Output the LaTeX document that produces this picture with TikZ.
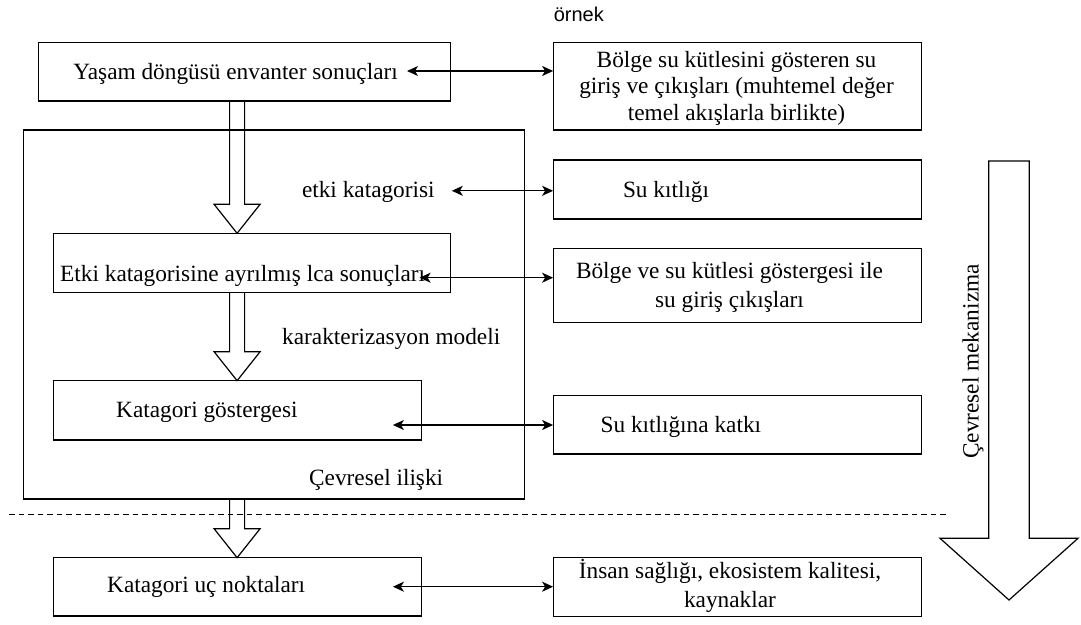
\documentclass[tikz,border=0pt]{standalone}
\usepackage{fontspec}
\setmainfont{Liberation Serif}
\newfontfamily\smallsans{Liberation Sans}
\usetikzlibrary{arrows.meta,calc}

% hollow block arrow pointing down: #1 = x of its axis, #2 = anchor it starts from, #3 = anchor its tip touches
\newcommand{\hollowdown}[3]{%
  \draw[hollow] let \p1=(#2), \p2=(#3) in
    ({(#1-7.5)*1pt},\y1) -- ({(#1-7.5)*1pt},{\y2+29pt})
    -- ({(#1-23)*1pt},{\y2+29pt}) -- ({#1*1pt},\y2)
    -- ({(#1+23)*1pt},{\y2+29pt}) -- ({(#1+7.5)*1pt},{\y2+29pt})
    -- ({(#1+7.5)*1pt},\y1);}

\begin{document}
\begin{tikzpicture}[x=1pt,y=-1pt,
  font=\fontsize{23.3}{26.7}\selectfont,
  box/.style={draw,line width=1.2pt,inner sep=0pt,outer sep=0pt,anchor=north west},
  lbl/.style={inner sep=0pt,anchor=base west},
  block/.style={inner sep=0pt,align=center},
  wide/.style={font=\fontsize{23.3}{28.5}\selectfont},
  tip/.style={Stealth[length=11pt,width=10pt,inset=3pt]},
  link/.style={line width=1.2pt,{Stealth[length=11pt,width=10pt,inset=3pt]}-{Stealth[length=11pt,width=10pt,inset=3pt]}},
  hollow/.style={line width=1.2pt,line join=miter},
  divider/.style={line width=1pt,dash pattern=on 5.5pt off 4pt}]
\fill[white] (0,0) rectangle (1081,624);
\useasboundingbox (0,0) rectangle (1081,624);

% frames
\node[box,minimum width=412.1pt,minimum height=58.7pt] (b1) at (38.6,42.3) {};
\node[box,minimum width=368.5pt,minimum height=87.7pt] (rA) at (553.1,42.3) {};
\node[box,minimum width=500.7pt,minimum height=369pt] (outer) at (23.6,130) {};
\node[box,minimum width=368.5pt,minimum height=59pt] (rB) at (553.1,160) {};
\node[box,minimum width=397.1pt,minimum height=59.4pt] (b2) at (53.6,233.3) {};
\node[box,minimum width=368.5pt,minimum height=74pt] (rC) at (553.1,248.3) {};
\node[box,minimum width=367.8pt,minimum height=59.3pt] (b3) at (53.6,380.7) {};
\node[box,minimum width=368.5pt,minimum height=58.3pt] (rD) at (553.1,395.7) {};
\node[box,minimum width=367.8pt,minimum height=58.3pt] (b4) at (53.6,557.7) {};
\node[box,minimum width=368.5pt,minimum height=59pt] (rE) at (553.1,557.7) {};

% texts
\node[inner sep=0pt,anchor=base,font=\fontsize{20}{24}\smallsans] (ex) at (578.8,21) {örnek};
\node[lbl] (t1) at (73.2,79) {Yaşam döngüsü envanter sonuçları};
\node[block] (tA) at (736.5,88.1) {Bölge su kütlesini gösteren su\\giriş ve çıkışları (muhtemel değer\\temel akışlarla birlikte)};
\node[lbl] (tEtki) at (301.8,197) {etki katagorisi};
\node[lbl] (tB) at (622.8,197) {Su kıtlığı};
\node[lbl] (t2) at (60,281) {Etki katagorisine ayrılmış lca sonuçları};
\node[block,wide] (tC) at (729.5,287.3) {Bölge ve su kütlesi göstergesi ile\\su giriş çıkışları};
\node[lbl] (tKar) at (282,344.5) {karakterizasyon modeli};
\node[lbl] (t3) at (116,417) {Katagori göstergesi};
\node[lbl] (tD) at (600.4,432) {Su kıtlığına katkı};
\node[lbl] (tIl) at (309,485) {Çevresel ilişki};
\node[lbl] (t4) at (107,592) {Katagori uç noktaları};
\node[block,wide] (tE) at (730,586) {İnsan sağlığı, ekosistem kalitesi,\\kaynaklar};

% two-way links to the example column
\coordinate (a1) at (407,71);
\coordinate (a2) at (451.8,190.8);
\coordinate (a3) at (419.6,277.7);
\coordinate (a4) at (392.9,425);
\coordinate (a5) at (392.9,586.7);
\draw[link] (a1) -- (a1 -| rA.west);
\draw[link] (a2) -- (a2 -| rB.west);
\draw[link] (a3) -- (a3 -| rC.west);
\draw[link] (a4) -- (a4 -| rD.west);
\draw[link] (a5) -- (a5 -| rE.west);

% flow down the chain
\hollowdown{237.1}{b1.south}{b2.north}
\hollowdown{237.1}{b2.south}{b3.north}
\hollowdown{237.1}{outer.south}{b4.north}

% separator
\draw[divider] (9.3,514) -- (949,514);

% environmental mechanism arrow
\draw[hollow] (988.8,161) -- (988.8,538.3) -- (940,538.3) -- (1009,600)
  -- (1078,538.3) -- (1029.3,538.3) -- (1029.3,161) -- cycle;
\node[inner sep=0pt,rotate=90] (mech) at (973,361.5) {Çevresel mekanizma};
\end{tikzpicture}
\end{document}
